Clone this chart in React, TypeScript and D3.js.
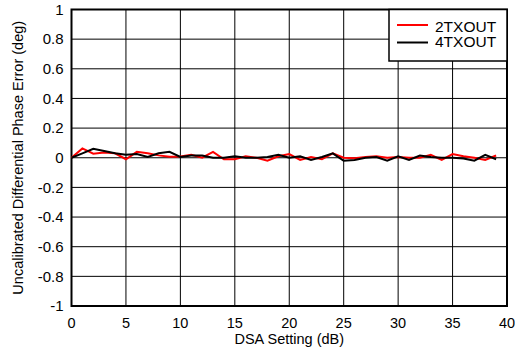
import React from "react";
import * as d3 from "d3";

const xValues = [0,1,2,3,4,5,6,7,8,9,10,11,12,13,14,15,16,17,18,19,20,21,22,23,24,25,26,27,28,29,30,31,32,33,34,35,36,37,38,39];
const tx2 = [0,0.063,0.027,0.036,0.03,-0.01,0.04,0.03,0.016,0.006,0.008,0.02,0,0.04,-0.01,-0.01,0.01,0,-0.02,0.01,0.025,-0.015,0.005,-0.01,0.03,0,-0.003,0.005,0.01,0,0.005,0,0,0.02,-0.015,0.025,0.01,0,-0.015,0.015];
const tx4 = [0,0.03,0.06,0.045,0.03,0.02,0.025,0.005,0.03,0.04,0.005,0.015,0.015,0,0,0.01,0,0,0.005,0.02,0,0.01,-0.015,0.005,0.03,-0.02,-0.015,0,0.005,-0.02,0.01,-0.015,0.015,0.005,0,0,-0.005,-0.02,0.02,-0.01];
const xTicks = [0,5,10,15,20,25,30,35,40];
const yTicks = [-1,-0.8,-0.6,-0.4,-0.2,0,0.2,0.4,0.6,0.8,1];
const seriesNames = ["2TXOUT","4TXOUT"];
const seriesColors = ["#ff0000","#000000"];

export default function App() {
  const W = 515, H = 354;
  const left = 71.5, right = 507, top = 9.5, bottom = 306;
  const x = d3.scaleLinear().domain([0, 40]).range([left, right]);
  const y = d3.scaleLinear().domain([-1, 1]).range([bottom, top]);
  const line = d3.line<number>().x((_, i) => x(xValues[i])).y((d) => y(d));
  const font = "'Liberation Sans', Arial, sans-serif";
  const series = [tx2, tx4];
  return (
    <svg width={W} height={H} style={{ position: "absolute", left: 0, top: 0, background: "#fff" }} fontFamily={font}>
      {xTicks.map((t) => (
        <line key={"gx" + t} x1={x(t)} x2={x(t)} y1={top} y2={bottom} stroke="#000" strokeWidth={1} />
      ))}
      {yTicks.map((t) => (
        <line key={"gy" + t} x1={left} x2={right} y1={y(t)} y2={y(t)} stroke="#000" strokeWidth={1} />
      ))}
      <rect x={left} y={top} width={right - left} height={bottom - top} fill="none" stroke="#000" strokeWidth={2} />
      {series.map((s, k) => (
        <path key={k} d={line(s) || ""} fill="none" stroke={seriesColors[k]} strokeWidth={2} />
      ))}
      {xTicks.map((t) => (
        <text key={"tx" + t} x={x(t)} y={bottom + 21.5} fontSize={14.5} textAnchor="middle">{t}</text>
      ))}
      {yTicks.map((t) => (
        <text key={"ty" + t} x={left - 8} y={y(t) + 5.2} fontSize={15} textAnchor="end">{t}</text>
      ))}
      <text x={(left + right) / 2} y={bottom + 37.5} fontSize={14.5} textAnchor="middle">DSA Setting (dB)</text>
      <text transform={`translate(22.5,${(top + bottom) / 2}) rotate(-90)`} fontSize={14.5} textAnchor="middle">Uncalibrated Differential Phase Error (deg)</text>
      <g>
        <rect x={389} y={top} width={right - 389} height={51.5} fill="#fff" stroke="#000" strokeWidth={1.5} />
        {seriesNames.map((n, i) => (
          <g key={n}>
            <line x1={397} x2={428} y1={25 + i * 17.5} y2={25 + i * 17.5} stroke={seriesColors[i]} strokeWidth={2} />
            <text x={435} y={31.5 + i * 15.5} fontSize={15.5}>{n}</text>
          </g>
        ))}
      </g>
    </svg>
  );
}
